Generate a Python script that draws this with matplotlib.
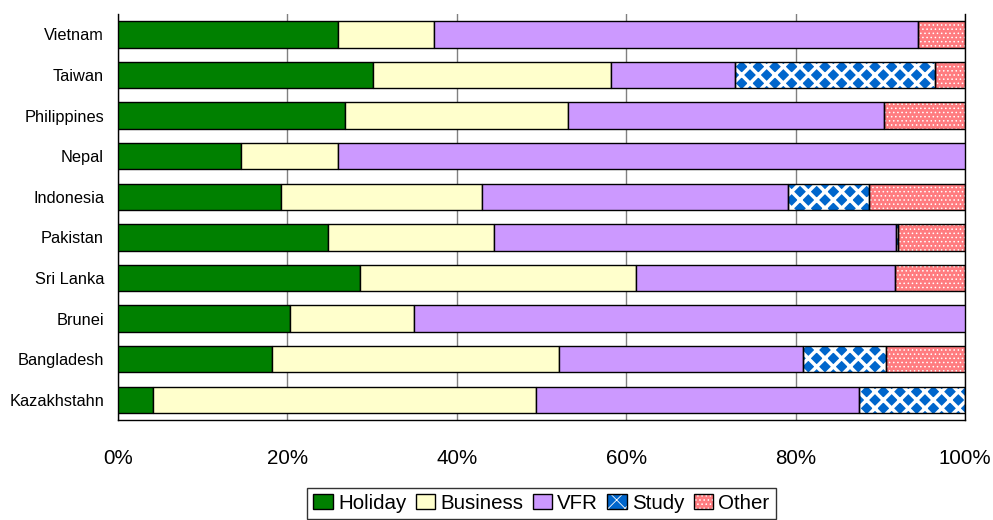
import numpy as np
import matplotlib
matplotlib.use("Agg")
import matplotlib.pyplot as plt
from matplotlib.patches import Patch
from matplotlib.legend_handler import HandlerTuple

plt.rcParams['font.family'] = ['Liberation Sans', 'DejaVu Sans']

countries = ['Vietnam', 'Taiwan', 'Philippines', 'Nepal', 'Indonesia',
             'Pakistan', 'Sri Lanka', 'Brunei', 'Bangladesh', 'Kazakhstahn']
# shares in percent
holiday = [26.0, 30.1, 26.8, 14.5, 19.2, 24.8, 28.6, 20.3, 18.2, 4.1]
business = [11.3, 28.1, 26.3, 11.5, 23.8, 19.6, 32.6, 14.6, 33.9, 45.3]
vfr = [57.2, 14.6, 37.3, 74.0, 36.1, 47.5, 30.5, 65.1, 28.8, 38.1]
study = [0.0, 23.7, 0.0, 0.0, 9.6, 0.2, 0.0, 0.0, 9.8, 12.5]
other = [5.5, 3.5, 9.6, 0.0, 11.3, 7.9, 8.3, 0.0, 9.3, 0.0]

series = [
    ('Holiday', holiday, dict(color='#008000')),
    ('Business', business, dict(color='#FFFFCC')),
    ('VFR', vfr, dict(color='#CC99FF')),
    ('Study', study, dict(color='#0066CC', hatch='xx', hcolor='white', hlw=2.5)),
    ('Other', other, dict(color='#FF7C80', hatch='....', hcolor='white', hlw=0.6)),
]

fig = plt.figure(figsize=(9.93, 5.20), dpi=100)
ax = fig.add_axes([0.1188, 0.1923, 0.853, 0.7807])

y = np.arange(len(countries))
left = np.zeros(len(countries))
handles = []
for name, vals, st in series:
    vals = np.array(vals)
    keep = vals > 0
    if 'hatch' in st:
        plt.rcParams['hatch.linewidth'] = st['hlw']
        bars = ax.barh(y[keep], vals[keep], left=left[keep], height=0.65,
                       color=st['color'], hatch=st['hatch'],
                       edgecolor=st['hcolor'], linewidth=0, zorder=2)
        for b in bars:
            if hasattr(b, 'set_hatch_linewidth'):
                b.set_hatch_linewidth(st['hlw'])
        ax.barh(y[keep], vals[keep], left=left[keep], height=0.65,
                fill=False, edgecolor='black', linewidth=1, zorder=3)
        h1 = Patch(facecolor=st['color'], hatch=st['hatch'],
                   edgecolor=st['hcolor'], linewidth=0)
        if hasattr(h1, 'set_hatch_linewidth'):
            h1.set_hatch_linewidth(st['hlw'])
        h2 = Patch(fill=False, edgecolor='black', linewidth=1)
        handles.append((h1, h2))
    else:
        ax.barh(y[keep], vals[keep], left=left[keep], height=0.65,
                color=st['color'], edgecolor='black', linewidth=1, zorder=3)
        handles.append(Patch(facecolor=st['color'], edgecolor='black', linewidth=1))
    left = left + vals

ax.set_xlim(0, 100)
ax.set_ylim(len(countries) - 0.5, -0.5)
ax.set_yticks(y)
ax.set_yticklabels(countries, fontsize=11.8)
ax.set_xticks(np.arange(0, 101, 20))
ax.set_xticklabels([f'{v}%' for v in range(0, 101, 20)], fontsize=14.8)
ax.tick_params(axis='x', length=0, pad=21)
ax.tick_params(axis='y', length=0, pad=10)

ax.grid(axis='x', color='#808080', linewidth=1)
ax.set_axisbelow(True)
ax.spines['top'].set_visible(False)
for s in ['left', 'bottom', 'right']:
    ax.spines[s].set_color('black')
    ax.spines[s].set_linewidth(1)

leg = ax.legend(handles, [s[0] for s in series], ncol=5, loc='upper center',
                bbox_to_anchor=(0.5, -0.167), fontsize=14.8,
                handler_map={tuple: HandlerTuple(ndivide=1)},
                frameon=True, fancybox=False, edgecolor='black',
                handlelength=0.95, handleheight=0.75, handletextpad=0.25,
                columnspacing=0.45, borderpad=0.3, borderaxespad=0)
leg.get_frame().set_linewidth(1)

fig.savefig('out.png', dpi=100)
